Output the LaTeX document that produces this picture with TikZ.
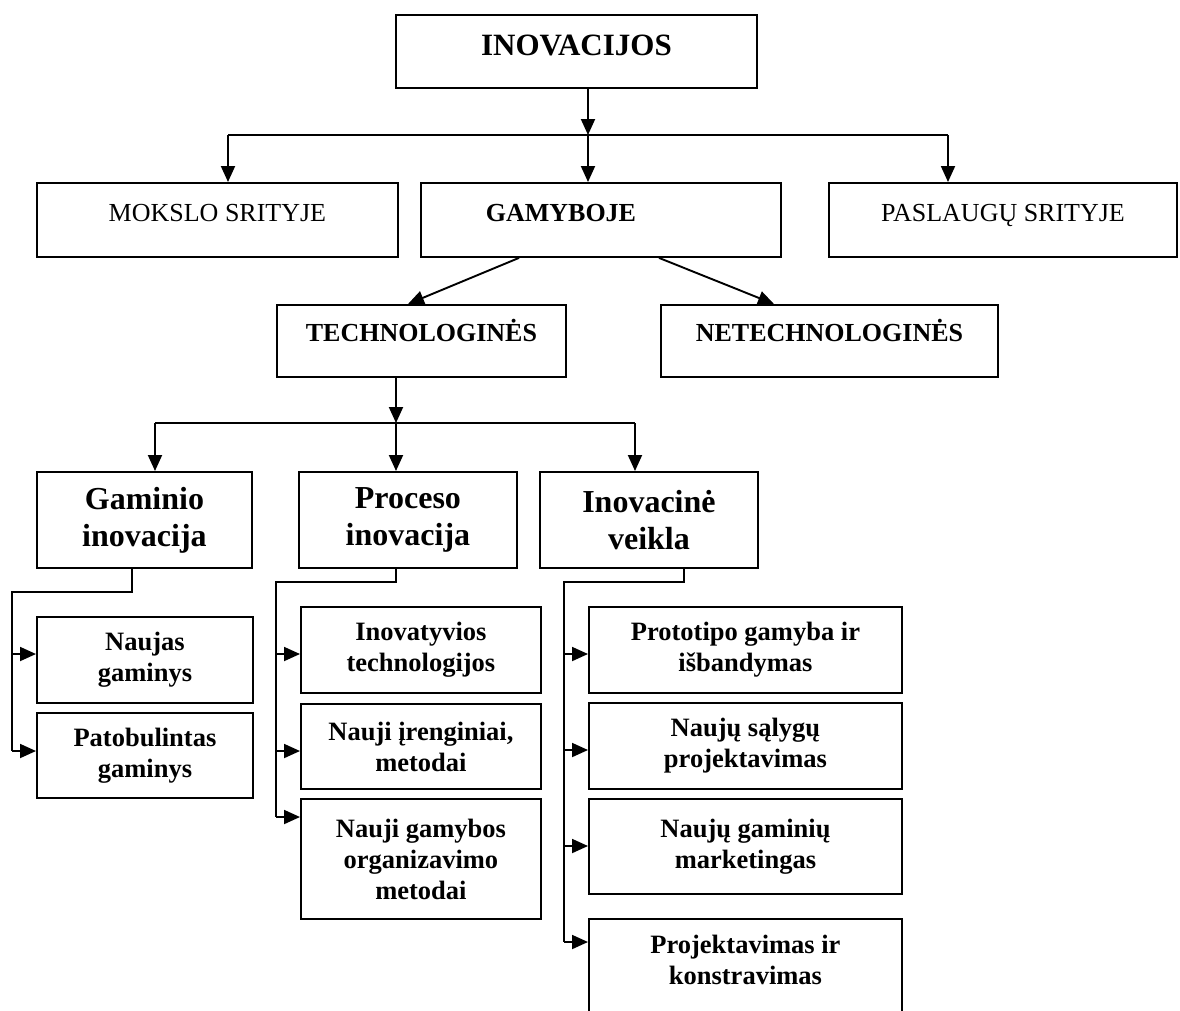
\documentclass[tikz,border=0pt]{standalone}
\usepackage{fontspec}
\setmainfont{Liberation Serif}
\usetikzlibrary{arrows.meta}
\begin{document}
\begin{tikzpicture}[x=1pt,y=-1pt,line width=1.9pt,
  box/.style={draw,line width=1.9pt,inner sep=0pt,anchor=north west},
  headtxt/.style={font=\fontsize{31}{36}\selectfont\bfseries},
  plaintxt/.style={font=\fontsize{26}{30}\selectfont},
  boldtxt/.style={font=\fontsize{26}{30}\selectfont\bfseries},
  bigtxt/.style={font=\fontsize{32}{37}\selectfont\bfseries,align=center},
  leaftxt/.style={font=\fontsize{26.5}{31}\selectfont\bfseries,align=center},
  arr/.style={-{Triangle[length=16pt,width=14pt]}}]
\useasboundingbox (0,0) rectangle (1180,1010);
\clip (0,0) rectangle (1180,1010);

% top node
\node[box,headtxt,minimum width=361pt,text height=41pt,text depth=32pt] (inov) at (395,14) {INOVACIJOS};

% second row
\node[box,plaintxt,minimum width=361pt,text height=38.5pt,text depth=35.5pt] (mok) at (36,182) {MOKSLO SRITYJE};
\node[box,boldtxt,minimum width=360pt,text height=38.5pt,text depth=35.5pt] (gam) at (420,182) {GAMYBOJE\hspace*{80pt}};
\node[box,plaintxt,minimum width=348pt,text height=38.5pt,text depth=35.5pt] (pas) at (828,182) {PASLAUGŲ SRITYJE};

% third row
\node[box,boldtxt,minimum width=289pt,text height=36.5pt,text depth=35.5pt] (tech) at (276,304) {TECHNOLOGINĖS};
\node[box,boldtxt,minimum width=337pt,text height=36.5pt,text depth=35.5pt] (netech) at (660,304) {NETECHNOLOGINĖS};

% fourth row
\node[box,bigtxt,minimum width=215pt,minimum height=96pt] (gamin) at (36,471) {Gaminio\\inovacija};
\node[box,bigtxt,minimum width=218pt,minimum height=96pt] (proc) at (298,471) {Proceso\\inovacija};
\node[box,bigtxt,minimum width=218pt,minimum height=96pt] (veik) at (539,471) {Inovacinė\\veikla};

% leaves of the product column
\node[box,leaftxt,minimum width=216pt,minimum height=86pt] (naujas) at (36,616) {Naujas\\gaminys};
\node[box,leaftxt,minimum width=216pt,minimum height=85pt] (patob) at (36,712) {Patobulintas\\gaminys};

% leaves of the process column
\node[box,leaftxt,minimum width=240pt,minimum height=86pt] (inovt) at (300,606) {Inovatyvios\\technologijos};
\node[box,leaftxt,minimum width=240pt,minimum height=85pt] (irengin) at (300,703) {Nauji įrenginiai,\\metodai};
\node[box,leaftxt,minimum width=240pt,minimum height=120pt] (organiz) at (300,798) {Nauji gamybos\\organizavimo\\metodai};

% leaves of the activity column
\node[box,leaftxt,minimum width=313pt,minimum height=86pt] (proto) at (588,606) {Prototipo gamyba ir\\išbandymas};
\node[box,leaftxt,minimum width=313pt,minimum height=86pt] (salyg) at (588,702) {Naujų sąlygų\\projektavimas};
\node[box,leaftxt,minimum width=313pt,minimum height=95pt] (market) at (588,798) {Naujų gaminių\\marketingas};
\node[box,minimum width=313pt,minimum height=130pt] (proj) at (588,918) {};
\node[leaftxt,inner sep=0pt,anchor=north] (projtxt) at ([yshift=-16pt]proj.north) {Projektavimas ir\\konstravimas};

% connectors from the top node
\coordinate (t1) at (588,135);
\coordinate (tl) at (228,135);
\coordinate (tr) at (948,135);
\draw[arr] (t1 |- inov.south) -- (t1);
\draw (tl) -- (tr);
\draw[arr] (tl) -- (tl |- mok.north);
\draw[arr] (t1) -- (t1 |- gam.north);
\draw[arr] (tr) -- (tr |- pas.north);

% production splits in two
\draw[arr] ([xshift=99pt]gam.south west) -- ([xshift=132pt]tech.north west);
\draw[arr] ([xshift=239pt]gam.south west) -- ([xshift=114pt]netech.north west);

% technological branch
\coordinate (m1) at (396,423);
\coordinate (ml) at (155,423);
\coordinate (mr) at (635,423);
\draw[arr] (m1 |- tech.south) -- (m1);
\draw (ml) -- (mr);
\draw[arr] (ml) -- (ml |- gamin.north);
\draw[arr] (m1) -- (m1 |- proc.north);
\draw[arr] (mr) -- (mr |- veik.north);

% product column bus
\coordinate (gbus) at (132,592);
\coordinate (ga1) at (12,654);
\coordinate (ga2) at (12,751);
\draw (gbus |- gamin.south) -- (gbus) -| (ga2);
\draw[arr] (ga1) -- (ga1 -| naujas.west);
\draw[arr] (ga2) -- (ga2 -| patob.west);

% process column bus
\coordinate (pbus) at (396,582);
\coordinate (pa1) at (276,654);
\coordinate (pa2) at (276,751);
\coordinate (pa3) at (276,817);
\draw (pbus |- proc.south) -- (pbus) -| (pa3);
\draw[arr] (pa1) -- (pa1 -| inovt.west);
\draw[arr] (pa2) -- (pa2 -| irengin.west);
\draw[arr] (pa3) -- (pa3 -| organiz.west);

% activity column bus
\coordinate (ibus) at (684,582);
\coordinate (ia1) at (564,654);
\coordinate (ia2) at (564,750);
\coordinate (ia3) at (564,846);
\coordinate (ia4) at (564,942);
\draw (ibus |- veik.south) -- (ibus) -| (ia4);
\draw[arr] (ia1) -- (ia1 -| proto.west);
\draw[arr] (ia2) -- (ia2 -| salyg.west);
\draw[arr] (ia3) -- (ia3 -| market.west);
\draw[arr] (ia4) -- (ia4 -| proj.west);
\end{tikzpicture}
\end{document}
